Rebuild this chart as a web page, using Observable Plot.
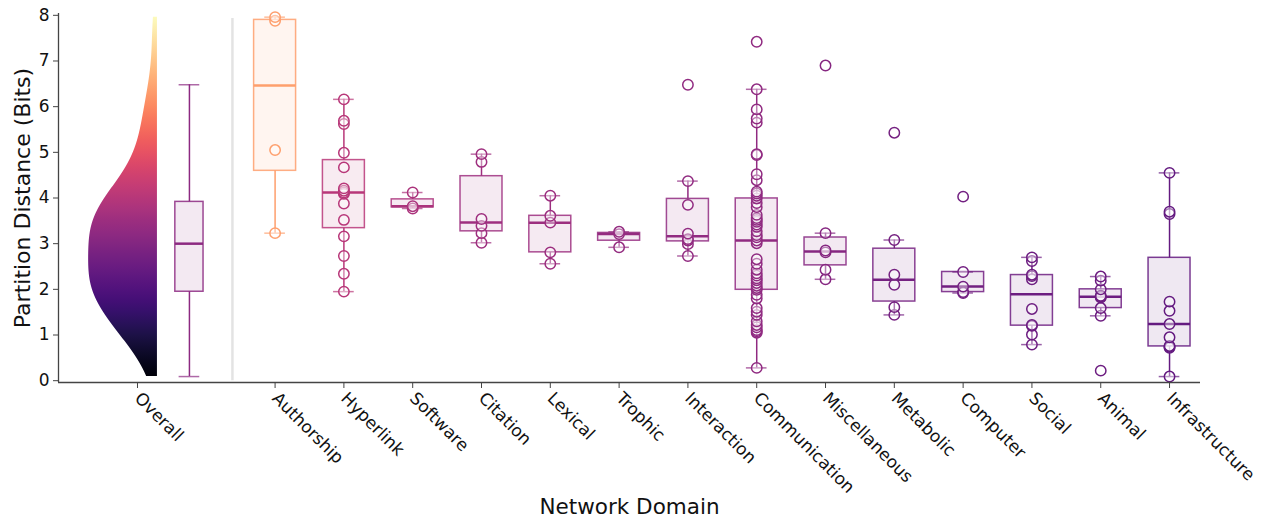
<!DOCTYPE html>
<html><head><meta charset="utf-8">
<script src="https://cdn.jsdelivr.net/npm/d3@7"></script>
<script src="https://cdn.jsdelivr.net/npm/@observablehq/plot@0.6"></script>
<style>
body{margin:0;background:#fff;}
svg{font-family:"DejaVu Sans",sans-serif;}
</style>
</head><body><div id="chart"></div>
<script>
// ---- data (partition distance in bits, per network domain) ----
const domains = ["Authorship","Hyperlink","Software","Citation","Lexical","Trophic","Interaction","Communication","Miscellaneous","Metabolic","Computer","Social","Animal","Infrastructure"];
const authorship = [3.23, 5.05, 7.88, 7.96];
const hyperlink = [1.95, 2.34, 2.73, 3.16, 3.52, 3.88, 4.09, 4.12, 4.16, 4.21, 4.67, 4.99, 5.62, 5.69, 6.16];
const software = [3.77, 3.82, 4.12];
const citation = [3.02, 3.23, 3.39, 3.54, 4.79, 4.96];
const lexical = [2.56, 2.81, 3.46, 3.61, 4.05];
const trophic = [2.92, 3.21, 3.26];
const interaction = [2.73, 2.99, 3.07, 3.10, 3.22, 3.85, 4.37, 6.48];
const communication = [0.28, 1.05, 1.08, 1.11, 1.17, 1.22, 1.30, 1.44, 1.51, 1.59, 1.80, 1.88, 1.99, 2.03, 2.08, 2.14, 2.20, 2.24, 2.30, 2.35, 2.43, 2.56, 2.66, 3.01, 3.07, 3.14, 3.19, 3.27, 3.37, 3.42, 3.48, 3.52, 3.56, 3.63, 3.80, 3.89, 3.99, 4.05, 4.10, 4.14, 4.39, 4.52, 4.94, 4.96, 5.65, 5.74, 5.94, 6.38, 7.42];
const miscellaneous = [2.22, 2.43, 2.81, 2.85, 3.23, 6.90];
const metabolic = [1.44, 1.61, 2.10, 2.32, 3.08, 5.43];
const computer = [1.92, 1.94, 2.06, 2.38, 4.03];
const social = [0.79, 1.01, 1.20, 1.22, 1.57, 2.22, 2.29, 2.32, 2.62, 2.70];
const animal = [0.22, 1.42, 1.59, 1.82, 1.84, 1.86, 2.00, 2.19, 2.28];
const infrastructure = [0.09, 0.72, 0.74, 0.76, 0.95, 1.24, 1.53, 1.73, 3.65, 3.70, 4.55];
const series = [authorship, hyperlink, software, citation, lexical, trophic, interaction, communication, miscellaneous, metabolic, computer, social, animal, infrastructure];
const overallLabel = "Overall";
const yTicks = [0,1,2,3,4,5,6,7,8];
const xTitle = "Network Domain";
const yTitle = "Partition Distance (Bits)";

// ---- layout constants ----
const firstPos = 2;            // domain boxes start here (Overall at 0)
const boxW = 0.61, capW = 0.30;
const ovBoxCenter = 0.755, ovBoxW = 0.41;
const violinEdge = 0.29, violinWidth = 1.0;
const sepPos = 1.38;

function boxStats(vals, pos, name) {
  const s = vals.slice().sort(d3.ascending);
  const q1 = d3.quantile(s, 0.25), med = d3.quantile(s, 0.5), q3 = d3.quantile(s, 0.75);
  const iqr = q3 - q1;
  const lo = d3.min(s.filter(v => v >= q1 - 1.5*iqr));
  const hi = d3.max(s.filter(v => v <= q3 + 1.5*iqr));
  return {name, pos, q1, med, q3, lo, hi};
}
const stats = series.map((vals, i) => boxStats(vals, firstPos + i, domains[i]));
const all = series.flat();
const overall = boxStats(all, ovBoxCenter, overallLabel);
const points = series.flatMap((vals, i) => vals.map(v => ({pos: stats[i].pos, value: v, med: stats[i].med})));

// KDE of pooled data (Gaussian, Scott bandwidth, cut at data range)
const n = all.length, bw = d3.deviation(all) * Math.pow(n, -0.2);
const lo = d3.min(all), hi = d3.max(all);
const dens = d3.range(0, 241).map(i => {
  const v = lo + (hi - lo) * i / 240;
  return {y: v, d: d3.sum(all, x => Math.exp(-0.5 * ((v - x) / bw) ** 2))};
});
const maxD = d3.max(dens, d => d.d);

const tickPositions = [0, ...domains.map((d, i) => firstPos + i)];
const tickLabels = [overallLabel, ...domains];
const labelAt = new Map(tickPositions.map((p, i) => [p, tickLabels[i]]));

const xDomain = [-1.148, 15.45], yDomain = [-0.04, 8.04];
const boxes = [...stats];
const ovArr = [overall];

const plot = Plot.plot({
  width: 1267, height: 519,
  marginLeft: 58, marginRight: 67, marginTop: 13, marginBottom: 137,
  x: {domain: xDomain},
  y: {domain: yDomain},
  color: {type: "linear", domain: [1.2, 6.45], clamp: true,
          interpolate: t => d3.interpolateMagma(0.3 + 0.5 * Math.pow(t, 1.5))},
  style: {fontFamily: "DejaVu Sans", background: "white", overflow: "visible"},
  marks: [
    Plot.ruleX([sepPos], {y1: 0, y2: 7.93, stroke: "#e3e3e3", strokeWidth: 2.5}),
    // violin (half, left)
    Plot.areaX(dens, {y: "y", x1: () => violinEdge, x2: d => violinEdge - violinWidth * d.d / maxD, fill: "url(#violin-grad)"}),
    // overall box
    Plot.rect(ovArr, {x1: d => d.pos - ovBoxW/2, x2: d => d.pos + ovBoxW/2, y1: "q1", y2: "q3", fill: "med", fillOpacity: 0.1, stroke: "med", strokeOpacity: 0.85, strokeWidth: 1.5}),
    Plot.ruleX(ovArr, {x: "pos", y1: "lo", y2: "q1", stroke: "med", strokeWidth: 1.5}),
    Plot.ruleX(ovArr, {x: "pos", y1: "q3", y2: "hi", stroke: "med", strokeWidth: 1.5}),
    Plot.ruleY(ovArr, {y: "lo", x1: d => d.pos - capW/2, x2: d => d.pos + capW/2, stroke: "med", strokeOpacity: 0.7, strokeWidth: 1.5}),
    Plot.ruleY(ovArr, {y: "hi", x1: d => d.pos - capW/2, x2: d => d.pos + capW/2, stroke: "med", strokeOpacity: 0.7, strokeWidth: 1.5}),
    Plot.ruleY(ovArr, {y: "med", x1: d => d.pos - ovBoxW/2, x2: d => d.pos + ovBoxW/2, stroke: "med", strokeWidth: 2.5}),
    // domain boxes
    Plot.rect(boxes, {x1: d => d.pos - boxW/2, x2: d => d.pos + boxW/2, y1: "q1", y2: "q3", fill: "med", fillOpacity: 0.1, stroke: "med", strokeOpacity: 0.85, strokeWidth: 1.5}),
    Plot.ruleX(boxes, {x: "pos", y1: "lo", y2: "q1", stroke: "med", strokeWidth: 1.5}),
    Plot.ruleX(boxes, {x: "pos", y1: "q3", y2: "hi", stroke: "med", strokeWidth: 1.5}),
    Plot.ruleY(boxes, {y: "lo", x1: d => d.pos - capW/2, x2: d => d.pos + capW/2, stroke: "med", strokeOpacity: 0.7, strokeWidth: 1.5}),
    Plot.ruleY(boxes, {y: "hi", x1: d => d.pos - capW/2, x2: d => d.pos + capW/2, stroke: "med", strokeOpacity: 0.7, strokeWidth: 1.5}),
    Plot.ruleY(boxes, {y: "med", x1: d => d.pos - boxW/2, x2: d => d.pos + boxW/2, stroke: "med", strokeWidth: 2.5}),
    Plot.dot(points, {x: "pos", y: "value", r: 5.2, stroke: "med", fill: "white", fillOpacity: 0.4, strokeWidth: 1.5}),
    // spines
    Plot.ruleX([xDomain[0]], {stroke: "#444", strokeWidth: 1.3}),
    Plot.ruleY([yDomain[0]], {stroke: "#444", strokeWidth: 1.3}),
    // axes
    Plot.axisY({ticks: yTicks, tickSize: 5, tickPadding: 4, fontSize: 17, stroke: "#444", fill: "#111", label: null}),
    Plot.axisX({ticks: tickPositions, tickFormat: d => labelAt.get(d), tickRotate: 45, tickSize: 6, tickPadding: 7, fontSize: 17, stroke: "#444", fill: "#111", label: null}),
    Plot.text([yTitle], {text: d => d, frameAnchor: "left", textAnchor: "middle", lineAnchor: "middle", rotate: -90, dx: -36, fontSize: 22, fill: "#111"}),
    Plot.text([xTitle], {text: d => d, frameAnchor: "bottom", textAnchor: "middle", lineAnchor: "middle", dy: 125, fontSize: 21.5, fill: "#111"})
  ]
});

// vertical magma gradient for the violin
const ys = plot.scale("y");
const svg = d3.select(plot);
const defs = svg.insert("defs", ":first-child");
const grad = defs.append("linearGradient").attr("id", "violin-grad")
  .attr("gradientUnits", "userSpaceOnUse")
  .attr("x1", 0).attr("x2", 0).attr("y1", ys.apply(0)).attr("y2", ys.apply(8));
for (let i = 0; i <= 32; i++) grad.append("stop").attr("offset", i/32).attr("stop-color", d3.interpolateMagma(i/32));

document.getElementById("chart").appendChild(plot);
</script>
</body></html>
